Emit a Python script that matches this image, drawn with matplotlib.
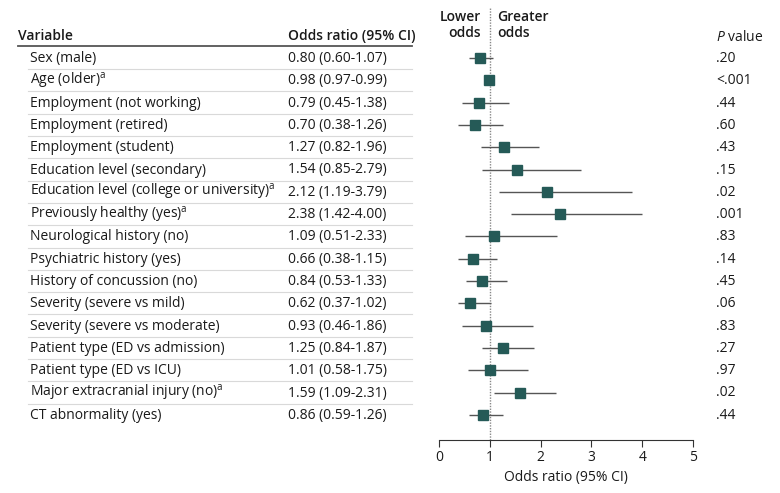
import numpy as np
import matplotlib
matplotlib.use('Agg')
import matplotlib.pyplot as plt


variables = ['Sex (male)', 'Age (older)$^{\\mathrm{a}}$', 'Employment (not working)',
             'Employment (retired)', 'Employment (student)', 'Education level (secondary)',
             'Education level (college or university)$^{\\mathrm{a}}$', 'Previously healthy (yes)$^{\\mathrm{a}}$',
             'Neurological history (no)', 'Psychiatric history (yes)', 'History of concussion (no)',
             'Severity (severe vs mild)', 'Severity (severe vs moderate)', 'Patient type (ED vs admission)',
             'Patient type (ED vs ICU)', 'Major extracranial injury (no)$^{\\mathrm{a}}$', 'CT abnormality (yes)']
odds = [0.80, 0.98, 0.79, 0.70, 1.27, 1.54, 2.12, 2.38, 1.09, 0.66, 0.84, 0.62, 0.93, 1.25, 1.01, 1.59, 0.86]
ci_low = [0.60, 0.97, 0.45, 0.38, 0.82, 0.85, 1.19, 1.42, 0.51, 0.38, 0.53, 0.37, 0.46, 0.84, 0.58, 1.09, 0.59]
ci_high = [1.07, 0.99, 1.38, 1.26, 1.96, 2.79, 3.79, 4.00, 2.33, 1.15, 1.33, 1.02, 1.86, 1.87, 1.75, 2.31, 1.26]
p_values = ['.20', '<.001', '.44', '.60', '.43', '.15', '.02', '.001', '.83', '.14', '.45', '.06',
            '.83', '.27', '.97', '.02', '.44']

plt.rcParams['font.family'] = ['Open Sans', 'DejaVu Sans']
plt.rcParams['mathtext.fontset'] = 'custom'
plt.rcParams['mathtext.rm'] = 'Open Sans'
plt.rcParams['mathtext.it'] = 'Open Sans:italic'

W, H = 780, 493
fig = plt.figure(figsize=(W / 100, H / 100), dpi=100)

# background axes in pixel coordinates for the table text
bg = fig.add_axes([0, 0, 1, 1])
bg.set_xlim(0, W)
bg.set_ylim(H, 0)
bg.axis('off')

row0, step = 58, 22.3
n = len(variables)
fs = 10
base = 4  # offset from row centre to text baseline
text_col = '#1a1a1a'

bg.text(18, 36 + base, 'Variable', fontsize=fs, fontweight='semibold', va='baseline', color=text_col)
bg.text(288, 36 + base, 'Odds ratio (95% CI)', fontsize=fs, fontweight='semibold', va='baseline', color=text_col)
bg.plot([18, 412], [46, 46], color='#555555', lw=1.3)
bg.text(716, 37 + base, '$\\it{P}$ value', fontsize=fs, va='baseline', color=text_col)
bg.text(481, 17 + base, 'Lower', fontsize=fs, fontweight='semibold', va='baseline', ha='right', color=text_col)
bg.text(481, 33 + base, 'odds', fontsize=fs, fontweight='semibold', va='baseline', ha='right', color=text_col)
bg.text(497, 17 + base, 'Greater', fontsize=fs, fontweight='semibold', va='baseline', ha='left', color=text_col)
bg.text(497, 33 + base, 'odds', fontsize=fs, fontweight='semibold', va='baseline', ha='left', color=text_col)

for i in range(n):
    y = row0 + step * i
    bg.text(30, y + base, variables[i], fontsize=fs, va='baseline', color=text_col)
    bg.text(288, y + base, f'{odds[i]:.2f} ({ci_low[i]:.2f}-{ci_high[i]:.2f})', fontsize=fs,
            va='baseline', color=text_col)
    bg.text(716, y + base, p_values[i], fontsize=fs, va='baseline', color=text_col)
    if i < n - 1:
        bg.plot([28, 412], [y + step / 2, y + step / 2], color='#d9d9d9', lw=0.8)

# forest axes
x0, x1 = 439, 693
top, bottom = 8, 440
ax = fig.add_axes([x0 / W, 1 - bottom / H, (x1 - x0) / W, (bottom - top) / H])
ax.patch.set_alpha(0)
ax.set_xlim(0, 5)
ax.set_ylim((bottom - row0) / step, (top - row0) / step)
for s in ['top', 'right', 'left']:
    ax.spines[s].set_visible(False)
ax.spines['bottom'].set_color('#333333')
ax.set_yticks([])
ax.set_xticks(range(6))
ax.tick_params(axis='x', length=5, color='#333333', labelsize=fs, labelcolor=text_col, pad=2)
ax.axvline(1, color='#888888', linestyle=(0, (1, 1)), lw=1)

yy = np.arange(n)
ax.hlines(yy, ci_low, ci_high, color='#555555', lw=1)
ax.plot(odds, yy, 's', color='#255a57', markersize=6.5, linestyle='none')
ax.set_xlabel('Odds ratio (95% CI)', fontsize=fs, color=text_col, labelpad=4)

fig.savefig('out.png', dpi=100)
